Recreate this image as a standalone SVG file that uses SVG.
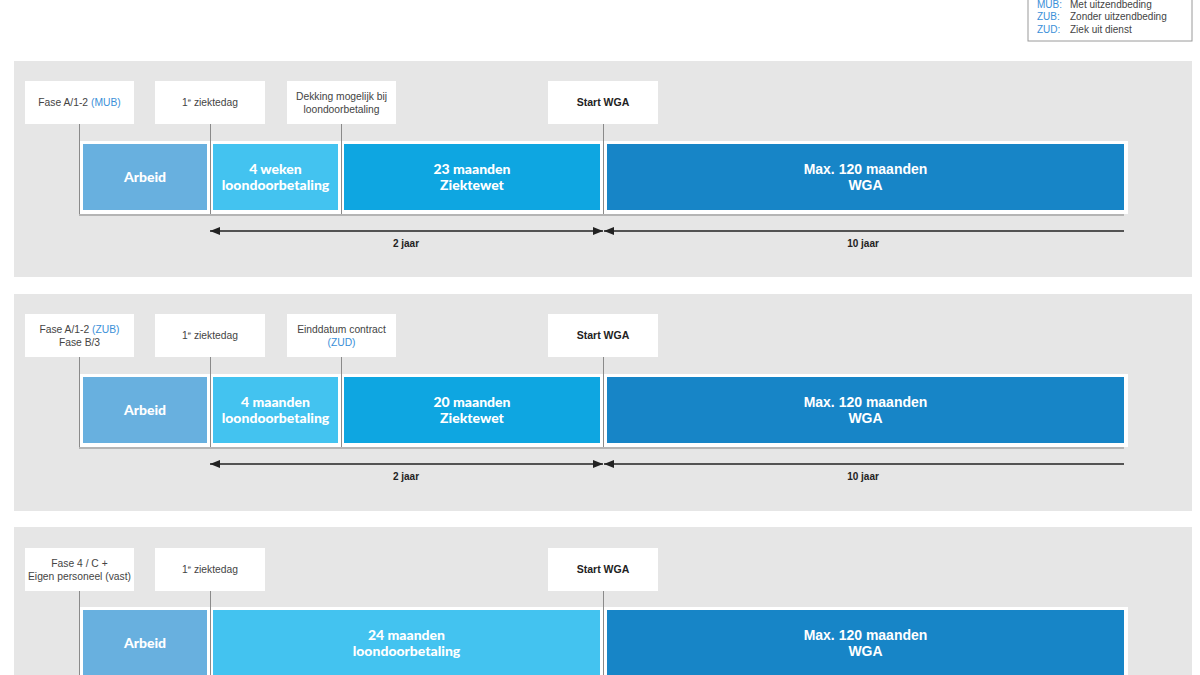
<svg xmlns="http://www.w3.org/2000/svg" width="1200" height="675" viewBox="0 0 1200 675">
<defs>
<style>
.panel{fill:#e6e6e6}
.strip{fill:#ffffff}
.lbl{fill:#ffffff}
.tick{stroke:#8a8a8a;stroke-width:1;fill:none}
.base{stroke:#b4b4b4;stroke-width:2;fill:none}
.arbeid{fill:#68b0df}
.light{fill:#43c3f0}
.mid{fill:#0ea6e1}
.dark{fill:#1785c7}
.bt{font-family:Lato,"Liberation Sans",sans-serif;font-weight:900;font-size:14px;fill:#ffffff;text-anchor:middle}
.bt2{font-family:"Liberation Sans",Arial,sans-serif;font-weight:bold;font-size:14px;fill:#ffffff;text-anchor:middle}
.lt{font-family:"Liberation Sans",Arial,sans-serif;font-size:10.3px;fill:#444444;text-anchor:middle}
.blue{fill:#3a8fd8}
.st{font-family:"Liberation Sans",Arial,sans-serif;font-weight:bold;font-size:10.5px;fill:#222222;text-anchor:middle}
.dur{font-family:"Liberation Sans",Arial,sans-serif;font-weight:bold;font-size:10px;fill:#222222;text-anchor:middle}
.arr{stroke:#222222;stroke-width:1.6;fill:none}
.leg{font-family:"Liberation Sans",Arial,sans-serif;font-size:10px;fill:#444444}
</style>
<marker id="ah" viewBox="0 0 10 8" refX="10" refY="4" markerWidth="10" markerHeight="8" markerUnits="userSpaceOnUse" orient="auto-start-reverse">
<path d="M0,0 L10,4 L0,8 Z" fill="#222222"/>
</marker>
</defs>
<rect width="1200" height="675" fill="#ffffff"/>

<g id="legend">
<rect x="1028" y="-5" width="164" height="46" fill="#ffffff" stroke="#9a9a9a" stroke-width="1"/>
<text class="leg" x="1037" y="8"><tspan class="blue">MUB:</tspan><tspan x="1070">Met uitzendbeding</tspan></text>
<text class="leg" x="1037" y="20"><tspan class="blue">ZUB:</tspan><tspan x="1070">Zonder uitzendbeding</tspan></text>
<text class="leg" x="1037" y="33"><tspan class="blue">ZUD:</tspan><tspan x="1070">Ziek uit dienst</tspan></text>
</g>

<!-- Panel 1 -->
<g id="panel1">
<rect class="panel" x="14" y="61" width="1178" height="216"/>
<rect class="strip" x="79" y="141" width="1049" height="73"/>
<path class="tick" d="M79.5,124 V214 M210.5,124 V214 M341.5,124 V214 M603.5,124 V214"/>
<path class="base" d="M79,215 H1124"/>
</g>
<g id="p1-label-fase">
<rect class="lbl" x="25" y="81" width="109" height="43"/>
<text class="lt" x="79.5" y="106">Fase A/1-2 <tspan class="blue">(MUB)</tspan></text>
</g>
<g id="p1-label-ziektedag">
<rect class="lbl" x="155" y="81" width="110" height="43"/>
<text class="lt" x="210" y="106">1<tspan font-size="6" dy="-4">e</tspan><tspan dy="4"> ziektedag</tspan></text>
</g>
<g id="p1-label-dekking">
<rect class="lbl" x="287" y="81" width="109" height="43"/>
<text class="lt" x="341.5" y="100">Dekking mogelijk bij</text>
<text class="lt" x="341.5" y="113">loondoorbetaling</text>
</g>
<g id="p1-label-wga">
<rect class="lbl" x="548" y="81" width="110" height="43"/>
<text class="st" x="603" y="106">Start WGA</text>
</g>
<g id="p1-arbeid">
<rect class="arbeid" x="83" y="144" width="124" height="66"/>
<text class="bt" x="145" y="182">Arbeid</text>
</g>
<g id="p1-loon">
<rect class="light" x="213" y="144" width="125" height="66"/>
<text class="bt" x="275.5" y="174">4 weken</text>
<text class="bt" x="275.5" y="190">loondoorbetaling</text>
</g>
<g id="p1-ziektewet">
<rect class="mid" x="344" y="144" width="256" height="66"/>
<text class="bt" x="472" y="174">23 maanden</text>
<text class="bt" x="472" y="190">Ziektewet</text>
</g>
<g id="p1-wga">
<rect class="dark" x="607" y="144" width="517" height="66"/>
<text class="bt2" x="865.5" y="174">Max. 120 maanden</text>
<text class="bt2" x="865.5" y="190">WGA</text>
</g>

<!-- Panel 2 -->
<g id="panel2">
<rect class="panel" x="14" y="294" width="1178" height="217"/>
<rect class="strip" x="79" y="374" width="1049" height="73"/>
<path class="tick" d="M79.5,357 V447 M210.5,357 V447 M341.5,357 V447 M603.5,357 V447"/>
<path class="base" d="M79,448 H1124"/>
</g>
<g id="p2-label-fase">
<rect class="lbl" x="25" y="314" width="109" height="43"/>
<text class="lt" x="79.5" y="333">Fase A/1-2 <tspan class="blue">(ZUB)</tspan></text>
<text class="lt" x="79.5" y="346">Fase B/3</text>
</g>
<g id="p2-label-ziektedag">
<rect class="lbl" x="155" y="314" width="110" height="43"/>
<text class="lt" x="210" y="339">1<tspan font-size="6" dy="-4">e</tspan><tspan dy="4"> ziektedag</tspan></text>
</g>
<g id="p2-label-einddatum">
<rect class="lbl" x="287" y="314" width="109" height="43"/>
<text class="lt" x="341.5" y="333">Einddatum contract</text>
<text class="lt blue" x="341.5" y="346">(ZUD)</text>
</g>
<g id="p2-label-wga">
<rect class="lbl" x="548" y="314" width="110" height="43"/>
<text class="st" x="603" y="339">Start WGA</text>
</g>
<g id="p2-arbeid">
<rect class="arbeid" x="83" y="377" width="124" height="66"/>
<text class="bt" x="145" y="415">Arbeid</text>
</g>
<g id="p2-loon">
<rect class="light" x="213" y="377" width="125" height="66"/>
<text class="bt" x="275.5" y="407">4 maanden</text>
<text class="bt" x="275.5" y="423">loondoorbetaling</text>
</g>
<g id="p2-ziektewet">
<rect class="mid" x="344" y="377" width="256" height="66"/>
<text class="bt" x="472" y="407">20 maanden</text>
<text class="bt" x="472" y="423">Ziektewet</text>
</g>
<g id="p2-wga">
<rect class="dark" x="607" y="377" width="517" height="66"/>
<text class="bt2" x="865.5" y="407">Max. 120 maanden</text>
<text class="bt2" x="865.5" y="423">WGA</text>
</g>

<!-- Panel 3 -->
<g id="panel3">
<rect class="panel" x="14" y="527" width="1178" height="160"/>
<rect class="strip" x="79" y="607" width="1049" height="80"/>
<path class="tick" d="M79.5,590 V680 M210.5,590 V680 M603.5,590 V680"/>
</g>
<g id="p3-label-fase">
<rect class="lbl" x="25" y="548" width="109" height="43"/>
<text class="lt" x="79.5" y="567">Fase 4 / C +</text>
<text class="lt" x="79.5" y="580">Eigen personeel (vast)</text>
</g>
<g id="p3-label-ziektedag">
<rect class="lbl" x="155" y="548" width="110" height="43"/>
<text class="lt" x="210" y="573">1<tspan font-size="6" dy="-4">e</tspan><tspan dy="4"> ziektedag</tspan></text>
</g>
<g id="p3-label-wga">
<rect class="lbl" x="548" y="548" width="110" height="43"/>
<text class="st" x="603" y="573">Start WGA</text>
</g>
<g id="p3-arbeid">
<rect class="arbeid" x="83" y="610" width="124" height="66"/>
<text class="bt" x="145" y="648">Arbeid</text>
</g>
<g id="p3-loon">
<rect class="light" x="213" y="610" width="387" height="66"/>
<text class="bt" x="406.5" y="640">24 maanden</text>
<text class="bt" x="406.5" y="656">loondoorbetaling</text>
</g>
<g id="p3-wga">
<rect class="dark" x="607" y="610" width="517" height="66"/>
<text class="bt2" x="865.5" y="640">Max. 120 maanden</text>
<text class="bt2" x="865.5" y="656">WGA</text>
</g>

<g id="connectors">
<path class="arr" d="M210,231 H603" marker-start="url(#ah)" marker-end="url(#ah)"/>
<path class="arr" d="M1124,231 H604" marker-end="url(#ah)"/>
<path class="arr" d="M210,464 H603" marker-start="url(#ah)" marker-end="url(#ah)"/>
<path class="arr" d="M1124,464 H604" marker-end="url(#ah)"/>
</g>
<g id="durations">
<text class="dur" x="406" y="247">2 jaar</text>
<text class="dur" x="863" y="247">10 jaar</text>
<text class="dur" x="406" y="480">2 jaar</text>
<text class="dur" x="863" y="480">10 jaar</text>
</g>
</svg>
